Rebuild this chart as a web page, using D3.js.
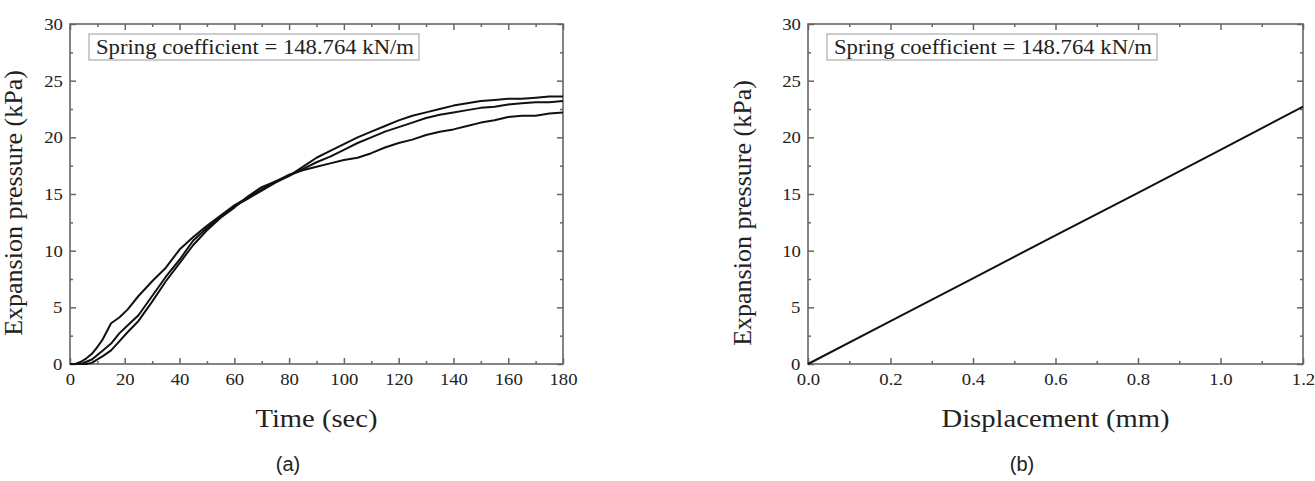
<!DOCTYPE html>
<html>
<head>
<meta charset="utf-8">
<script src="https://cdn.jsdelivr.net/npm/d3@7"></script>
<style>
  body { margin: 0; background: #fff; }
  svg text { font-family: "Liberation Serif", "Times New Roman", serif; fill: #222; }
  .wide { transform-box: fill-box; transform-origin: center; transform: scaleX(1.1); }
  .axis path, .axis line { stroke: #666; stroke-width: 1.5; }
</style>
</head>
<body>
<svg id="fig" width="1315" height="481"></svg>
<script>
// panel (a): expansion pressure (kPa) over time (sec), three test runs
const timeSec = [0, 2, 4, 6, 8, 10, 12, 15, 18, 21, 25, 30, 35, 40, 45, 50, 55, 60, 65, 70, 75, 80, 85, 90,
  95, 100, 105, 110, 115, 120, 125, 130, 135, 140, 145, 150, 155, 160, 165, 170, 175, 180];
const runA = [0, 0, 0.2, 0.5, 0.9, 1.5, 2.2, 3.6, 4.1, 4.8, 6.0, 7.3, 8.5, 10.1, 11.2, 12.2, 13.1, 14.0, 14.7, 15.4,
  16.1, 16.7, 17.1, 17.4, 17.7, 18.0, 18.2, 18.6, 19.1, 19.5, 19.8, 20.2, 20.5, 20.7, 21.0, 21.3, 21.5, 21.8,
  21.9, 21.9, 22.1, 22.2];
const runB = [0, 0, 0, 0.2, 0.4, 0.8, 1.2, 1.8, 2.7, 3.4, 4.3, 6.0, 7.7, 9.2, 10.9, 12.0, 13.0, 13.9, 14.6, 15.3,
  16.0, 16.6, 17.2, 17.8, 18.3, 18.9, 19.5, 20.0, 20.5, 20.9, 21.3, 21.7, 22.0, 22.2, 22.4, 22.6, 22.7, 22.9,
  23.0, 23.1, 23.1, 23.2];
const runC = [0, 0, 0, 0, 0.1, 0.4, 0.7, 1.2, 2.0, 2.8, 3.8, 5.5, 7.3, 8.9, 10.5, 11.8, 12.9, 13.8, 14.8, 15.6,
  16.1, 16.6, 17.4, 18.2, 18.8, 19.4, 20.0, 20.5, 21.0, 21.5, 21.9, 22.2, 22.5, 22.8, 23.0, 23.2, 23.3, 23.4,
  23.4, 23.5, 23.6, 23.6];

// panel (b): expansion pressure (kPa) against displacement (mm)
const dispMm = [0, 0.2, 0.4, 0.6, 0.8, 1.0, 1.2];
const dispPressure = [0, 3.78, 7.56, 11.35, 15.1, 18.9, 22.7];

const timeTicks = [0, 20, 40, 60, 80, 100, 120, 140, 160, 180];
const dispTicks = [0, 0.2, 0.4, 0.6, 0.8, 1.0, 1.2];
const pressureTicks = [0, 5, 10, 15, 20, 25, 30];
const legendText = "Spring coefficient = 148.764 kN/m";

const svg = d3.select("#fig");
svg.append("rect").attr("width", 1315).attr("height", 481).attr("fill", "#fff");

const TOP = 24, BOTTOM = 364;

function panel(opt) {
  let g = svg.append("g");
  let x = d3.scaleLinear().domain(opt.xDomain).range([opt.left, opt.right]);
  let y = d3.scaleLinear().domain([0, 30]).range([BOTTOM, TOP]);

  let majX = opt.xTicks;
  let minX = d3.range(0, majX.length - 1).map(i => (majX[i] + majX[i + 1]) / 2);
  let majY = pressureTicks;
  let minY = d3.range(0, majY.length - 1).map(i => (majY[i] + majY[i + 1]) / 2);

  // minor ticks on all four sides
  g.append("g").attr("class", "axis").attr("transform", "translate(0," + BOTTOM + ")")
    .call(d3.axisBottom(x).tickValues(minX).tickFormat("").tickSize(-3).tickSizeOuter(0));
  g.append("g").attr("class", "axis").attr("transform", "translate(0," + TOP + ")")
    .call(d3.axisTop(x).tickValues(minX).tickFormat("").tickSize(-3).tickSizeOuter(0));
  g.append("g").attr("class", "axis").attr("transform", "translate(" + opt.left + ",0)")
    .call(d3.axisLeft(y).tickValues(minY).tickFormat("").tickSize(-3).tickSizeOuter(0));
  g.append("g").attr("class", "axis").attr("transform", "translate(" + opt.right + ",0)")
    .call(d3.axisRight(y).tickValues(minY).tickFormat("").tickSize(-3).tickSizeOuter(0));

  // major ticks, labels on bottom and left
  let bx = g.append("g").attr("class", "axis").attr("transform", "translate(0," + BOTTOM + ")")
    .call(d3.axisBottom(x).tickValues(majX).tickFormat(opt.xFormat).tickSize(-6).tickSizeOuter(0).tickPadding(9));
  g.append("g").attr("class", "axis").attr("transform", "translate(0," + TOP + ")")
    .call(d3.axisTop(x).tickValues(majX).tickFormat("").tickSize(-6).tickSizeOuter(0));
  let ly = g.append("g").attr("class", "axis").attr("transform", "translate(" + opt.left + ",0)")
    .call(d3.axisLeft(y).tickValues(majY).tickFormat(d3.format("d")).tickSize(-6).tickSizeOuter(0).tickPadding(8));
  g.append("g").attr("class", "axis").attr("transform", "translate(" + opt.right + ",0)")
    .call(d3.axisRight(y).tickValues(majY).tickFormat("").tickSize(-6).tickSizeOuter(0));

  bx.selectAll("text").attr("font-size", 17).attr("class", "wide");
  ly.selectAll("text").attr("font-size", 17).attr("class", "wide");
  g.selectAll(".axis .domain").remove();
  g.selectAll(".axis text").style("font-family", "Liberation Serif").attr("fill", "#333");

  // frame
  g.append("rect").attr("x", opt.left).attr("y", TOP)
    .attr("width", opt.right - opt.left).attr("height", BOTTOM - TOP)
    .attr("fill", "none").attr("stroke", "#666").attr("stroke-width", 1.6);

  // legend box
  g.append("rect").attr("x", opt.left + 19).attr("y", 34).attr("width", 330).attr("height", 26)
    .attr("fill", "#fff").attr("stroke", "#999").attr("stroke-width", 1);
  g.append("text").attr("x", opt.left + 26).attr("y", 54).attr("font-size", 20)
    .attr("textLength", 318).attr("lengthAdjust", "spacingAndGlyphs").text(legendText);

  // data lines
  let line = d3.line().x(d => x(d[0])).y(d => y(d[1]));
  opt.series.forEach(s => {
    g.append("path").datum(s).attr("d", line)
      .attr("fill", "none").attr("stroke", "#111").attr("stroke-width", 2)
      .attr("stroke-linejoin", "round");
  });

  // axis titles
  g.append("text").attr("class", "wide").attr("x", (opt.left + opt.right) / 2).attr("y", 427)
    .attr("text-anchor", "middle").attr("font-size", 26).text(opt.xTitle);
  g.append("text").attr("transform", "translate(" + opt.yTitleX + "," + opt.yTitleY + ") rotate(-90)")
    .attr("text-anchor", "middle").attr("font-size", 26).text("Expansion pressure (kPa)");
  g.append("text").attr("x", opt.capX).attr("y", 471).attr("text-anchor", "middle")
    .attr("font-size", 20).style("font-family", "Liberation Sans, Arial, sans-serif").text(opt.caption);
}

panel({
  left: 70, right: 563, xDomain: [0, 180], xTicks: timeTicks, xFormat: d3.format("d"),
  series: [runA, runB, runC].map(r => timeSec.map((t, i) => [t, r[i]])),
  xTitle: "Time (sec)", yTitleX: 22, yTitleY: 203, capX: 288, caption: "(a)"
});

panel({
  left: 808, right: 1303, xDomain: [0, 1.2], xTicks: dispTicks, xFormat: d3.format(".1f"),
  series: [dispMm.map((d, i) => [d, dispPressure[i]])],
  xTitle: "Displacement (mm)", yTitleX: 751, yTitleY: 213, capX: 1022, caption: "(b)"
});
</script>
</body>
</html>
